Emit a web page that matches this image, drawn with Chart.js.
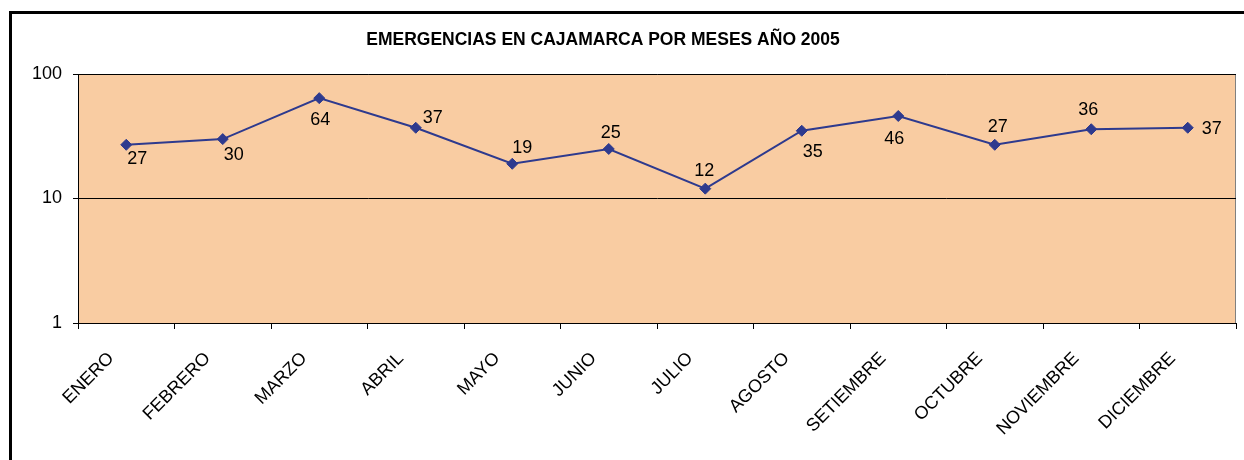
<!DOCTYPE html>
<html>
<head>
<meta charset="utf-8">
<script src="https://cdn.jsdelivr.net/npm/chart.js@4"></script>
<style>
  html, body { margin: 0; padding: 0; background: #fff; overflow: hidden; }
  #frame { position: absolute; left: 9px; top: 11px; width: 1400px; height: 600px; border: 3px solid #000; }
  #chart { position: absolute; left: 0; top: 0; }
</style>
</head>
<body>
<div id="frame"></div>
<canvas id="chart" width="1244" height="460"></canvas>
<script>
// chart data
const months = ["ENERO", "FEBRERO", "MARZO", "ABRIL", "MAYO", "JUNIO", "JULIO",
                "AGOSTO", "SETIEMBRE", "OCTUBRE", "NOVIEMBRE", "DICIEMBRE"];
const emergencias = [27, 30, 64, 37, 19, 25, 12, 35, 46, 27, 36, 37];
const yTicks = [1, 10, 100];
const chartTitle = "EMERGENCIAS EN CAJAMARCA POR MESES AÑO 2005";

// where each value label sits relative to its point (dx, dy in px)
const labelOffsets = [[11, 13], [11, 15], [1, 21], [17, -11], [10, -17], [2, -17],
                      [-1, -19], [11, 20], [-4, 22], [3, -19], [-3, -20], [24, 0]];

const FONT = "'Liberation Sans', Arial, sans-serif";
const LINE_COLOR = "#2E3A8E";

// peach plot background with grey border
const plotBackground = {
    id: "plotBackground",
    beforeDraw(chart) {
        const { ctx, chartArea: a } = chart;
        ctx.save();
        ctx.fillStyle = "#F9CCA2";
        ctx.fillRect(a.left, a.top, a.right - a.left, a.bottom - a.top);
        ctx.strokeStyle = "#808080";
        ctx.lineWidth = 1;
        ctx.strokeRect(Math.round(a.left) + 0.5, Math.round(a.top) + 0.5,
                       Math.round(a.right - a.left) - 1, Math.round(a.bottom - a.top));
        ctx.restore();
    }
};

// title + value labels
const textLayer = {
    id: "textLayer",
    afterDraw(chart) {
        const ctx = chart.ctx;
        ctx.save();
        ctx.fillStyle = "#000";
        ctx.font = "bold 17.5px " + FONT;
        ctx.textAlign = "center";
        ctx.textBaseline = "alphabetic";
        ctx.fillText(chartTitle, 603, 45);

        ctx.font = "18px " + FONT;
        ctx.textBaseline = "middle";
        const meta = chart.getDatasetMeta(0);
        meta.data.forEach((pt, i) => {
            const [dx, dy] = labelOffsets[i];
            ctx.fillText(String(emergencias[i]), pt.x + dx, pt.y + dy + 1);
        });
        ctx.restore();
    }
};

new Chart(document.getElementById("chart"), {
    type: "line",
    data: {
        labels: months,
        datasets: [{
            data: emergencias,
            borderColor: LINE_COLOR,
            borderWidth: 2,
            backgroundColor: LINE_COLOR,
            pointStyle: "rectRot",
            pointRadius: 5.5,
            pointBorderWidth: 1,
            pointBorderColor: LINE_COLOR,
            pointBackgroundColor: LINE_COLOR,
            tension: 0,
            fill: false
        }]
    },
    options: {
        responsive: false,
        devicePixelRatio: 1,
        animation: false,
        layout: { padding: { left: 0, top: 74, right: 8, bottom: 0 } },
        plugins: {
            legend: { display: false },
            title: { display: false },
            tooltip: { enabled: false }
        },
        scales: {
            x: {
                type: "category",
                offset: true,
                grid: {
                    offset: true,
                    drawOnChartArea: false,
                    drawTicks: true,
                    tickLength: 6,
                    tickColor: "#000",
                    color: "#000"
                },
                border: { color: "#000", width: 1 },
                ticks: {
                    autoSkip: false,
                    minRotation: 45,
                    maxRotation: 45,
                    labelOffset: -15,
                    padding: 19,
                    color: "#000",
                    font: { family: FONT, size: 18 }
                },
                afterFit(scale) { scale.height = 137; }
            },
            y: {
                type: "logarithmic",
                min: 1,
                max: 100,
                grid: {
                    color: "#000",
                    lineWidth: 1,
                    tickLength: 5,
                    tickColor: "#000"
                },
                border: { color: "#000", width: 1 },
                ticks: {
                    padding: 11,
                    color: "#000",
                    font: { family: FONT, size: 18 },
                    callback: (v) => String(v)
                },
                afterBuildTicks(scale) {
                    scale.ticks = yTicks.map(v => ({ value: v }));
                },
                afterFit(scale) { scale.width = 78; }
            }
        }
    },
    plugins: [plotBackground, textLayer]
});
</script>
</body>
</html>
